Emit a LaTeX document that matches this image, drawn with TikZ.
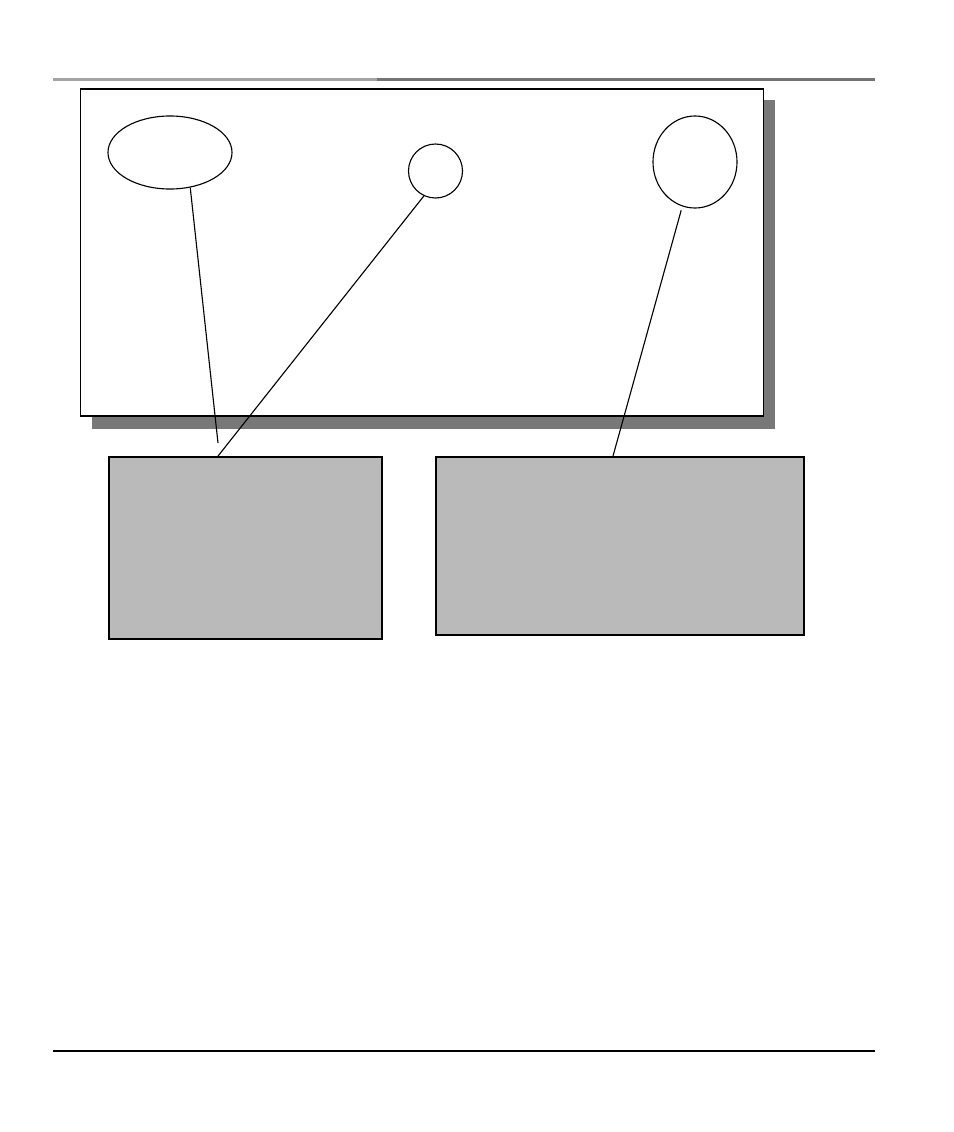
\documentclass[tikz,border=0pt]{standalone}
\usetikzlibrary{shapes.geometric}
\definecolor{panelgray}{HTML}{BABABA}
\definecolor{shadowgray}{HTML}{787878}
\definecolor{rulelight}{HTML}{A4A4A4}
\definecolor{ruledark}{HTML}{747474}
\begin{document}
\begin{tikzpicture}[x = 0.025cm, y = -0.025cm, line width = 0.8pt]
\tikzstyle{blob} = [shape = ellipse, draw, inner sep = 0pt]
\tikzstyle{panel} = [shape = rectangle, draw, line width = 1.3pt, fill = panelgray, inner sep = 0pt]
\useasboundingbox (0, 0) rectangle (954, 1132);
% page rules
\draw[line width = 1.5pt, rulelight] (53, 79.5) -- (377, 79.5);
\draw[line width = 1.5pt, ruledark] (377, 79.5) -- (875, 79.5);
\draw[line width = 0.9pt] (53, 1051) -- (875, 1051);
% frame with its shadow
\fill[shadowgray] (92, 100) rectangle (775, 429);
\node[draw, fill = white, inner sep = 0pt, minimum width = 17.05cm, minimum height = 8.175cm] (frame) at (422, 252.5) {};
\node[blob, minimum width = 3.1cm, minimum height = 1.825cm] (ellA) at (170, 152.5) {};
\node[shape = circle, draw, inner sep = 0pt, minimum size = 1.35cm] (dot) at (435.5, 171) {};
\node[blob, minimum width = 2.1cm, minimum height = 2.3cm] (ellB) at (695, 162) {};
\node[panel, minimum width = 6.825cm, minimum height = 4.55cm] (boxA) at (245.5, 548) {};
\node[panel, minimum width = 9.2cm, minimum height = 4.45cm] (boxB) at (620, 546) {};
\coordinate (endA) at (218, 443);
\draw (ellA.-60) -- (endA);
\draw (dot.-115) -- (boxA.north -| endA);
\draw[shorten <= 0.1cm] (ellB.-106) -- ([xshift = -0.175cm]boxB.north);
\end{tikzpicture}
\end{document}
